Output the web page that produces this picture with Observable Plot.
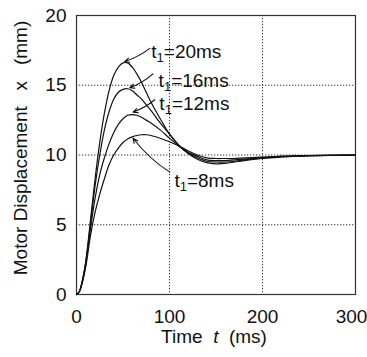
<!DOCTYPE html>
<html><head><meta charset="utf-8">
<script src="https://cdn.jsdelivr.net/npm/d3@7"></script>
<script src="https://cdn.jsdelivr.net/npm/@observablehq/plot@0.6"></script>
<style>body{margin:0;background:#fff} svg{display:block}</style>
</head><body><div id="chart"></div>
<script>
const time = [0,3,6,10,15,20,25,30,35,40,45,50,55,60,65,70,75,80,90,100,110,120,130,140,150,160,170,180,200,220,250,300];
const x20 = [0,0.2,0.9,2.4,5.3,8.3,10.9,13.0,14.6,15.7,16.3,16.6,16.6,16.3,15.8,15.2,14.5,13.8,12.6,11.5,10.7,10.1,9.7,9.45,9.37,9.4,9.5,9.6,9.75,9.85,9.95,10];
const x16 = [0,0.2,0.9,2.3,5.0,7.8,10.0,11.8,13.1,14.0,14.5,14.7,14.75,14.6,14.3,14.0,13.6,13.2,12.3,11.5,10.7,10.15,9.8,9.55,9.5,9.5,9.55,9.65,9.8,9.9,9.95,10];
const x12 = [0,0.2,0.8,2.2,4.7,6.9,8.6,9.8,10.8,11.6,12.2,12.6,12.85,12.9,12.85,12.7,12.5,12.3,11.8,11.2,10.65,10.2,9.9,9.65,9.6,9.6,9.65,9.7,9.8,9.9,9.95,10];
const x8  = [0,0.2,0.8,2.0,4.2,5.9,7.2,8.3,9.3,10.0,10.5,10.9,11.15,11.3,11.4,11.45,11.45,11.4,11.2,10.95,10.65,10.3,10.0,9.8,9.75,9.75,9.75,9.8,9.85,9.9,9.95,10];
const seriesNames = ["20","16","12","8"];
const seriesValues = [x20, x16, x12, x8];
// annotation: label position, arrow tail, arrow tip (data units)
const labelT = [80.4, 88.3, 89.1, 105.3];
const labelX = [17.4, 15.34, 13.69, 8.17];
const tailT = [78.8, 82.3, 84.2, 100.4];
const tailX = [17.64, 15.82, 13.96, 8.77];
const tipT = [51.8, 57.2, 60.8, 60.8];
const tipX = [16.7, 14.82, 13.07, 11.2];
const xTicks = [0,100,200,300];
const yTicks = [0,5,10,15,20];

const rows = [];
seriesNames.forEach((s, k) => time.forEach((t, i) => rows.push({t, x: seriesValues[k][i], s})));
const ann = seriesNames.map((s, k) => ({s, lt: labelT[k], lx: labelX[k], x1: tailT[k], y1: tailX[k], x2: tipT[k], y2: tipX[k]}));

const font = "Liberation Sans, Arial, Helvetica, sans-serif";
const chart = Plot.plot({
  width: 367, height: 357,
  marginLeft: 76, marginRight: 12, marginTop: 15, marginBottom: 63,
  style: {fontFamily: font, fontSize: "19px", color: "#111", background: "#fff"},
  x: {domain: [0,300]},
  y: {domain: [0,20]},
  marks: [
    Plot.gridX(xTicks.slice(1,3), {stroke: "#222", strokeOpacity: 0.9, strokeDasharray: "1.3,1.7"}),
    Plot.gridY(yTicks.slice(1,4), {stroke: "#222", strokeOpacity: 0.9, strokeDasharray: "1.3,1.7"}),
    Plot.frame({stroke: "#333", strokeWidth: 1.2}),
    Plot.line(rows, {x: "t", y: "x", z: "s", curve: "catmull-rom", stroke: "#111", strokeWidth: 1.2}),
    Plot.arrow(ann, {x1: "x1", y1: "y1", x2: "x2", y2: "y2", bend: 10, headLength: 7, headAngle: 50, stroke: "#111", strokeWidth: 1.1}),
    Plot.text(ann, {x: "lt", y: "lx", text: d => "§" + d.s, textAnchor: "start", fontSize: 19, fill: "#111"}),
    Plot.axisX({ticks: xTicks, tickSize: 0, tickPadding: 15, label: null, fontSize: 19}),
    Plot.axisY({ticks: yTicks, tickSize: 0, tickPadding: 10, label: null, fontSize: 19})
  ]
});
document.getElementById("chart").appendChild(chart);
const svg = d3.select(chart);
svg.selectAll("text").each(function() {
  const el = d3.select(this);
  const txt = el.text();
  if (txt.startsWith("§")) {
    const name = txt.slice(1);
    el.selectAll("*").remove();
    el.text(null);
    el.append("tspan").text("t");
    el.append("tspan").attr("font-size", 13).attr("dy", 4).text("1");
    el.append("tspan").attr("dy", -4).text("=" + name + "ms");
  } else if (txt === "300") {
    el.attr("dx", -4);
  }
});
const xl = svg.append("text").attr("x", 214).attr("y", 343).attr("text-anchor", "middle")
  .attr("font-size", 19).attr("font-family", font).attr("fill", "#111").style("white-space", "pre");
xl.append("tspan").text("Time  ");
xl.append("tspan").attr("font-style", "italic").text("t");
xl.append("tspan").text("  (ms)");
const yl = svg.append("text").attr("transform", "translate(27,148) rotate(-90)").attr("text-anchor", "middle")
  .attr("font-size", 19).attr("font-family", font).attr("fill", "#111").style("white-space", "pre");
yl.append("tspan").text("Motor Displacement   x   (mm)");
</script></body></html>
